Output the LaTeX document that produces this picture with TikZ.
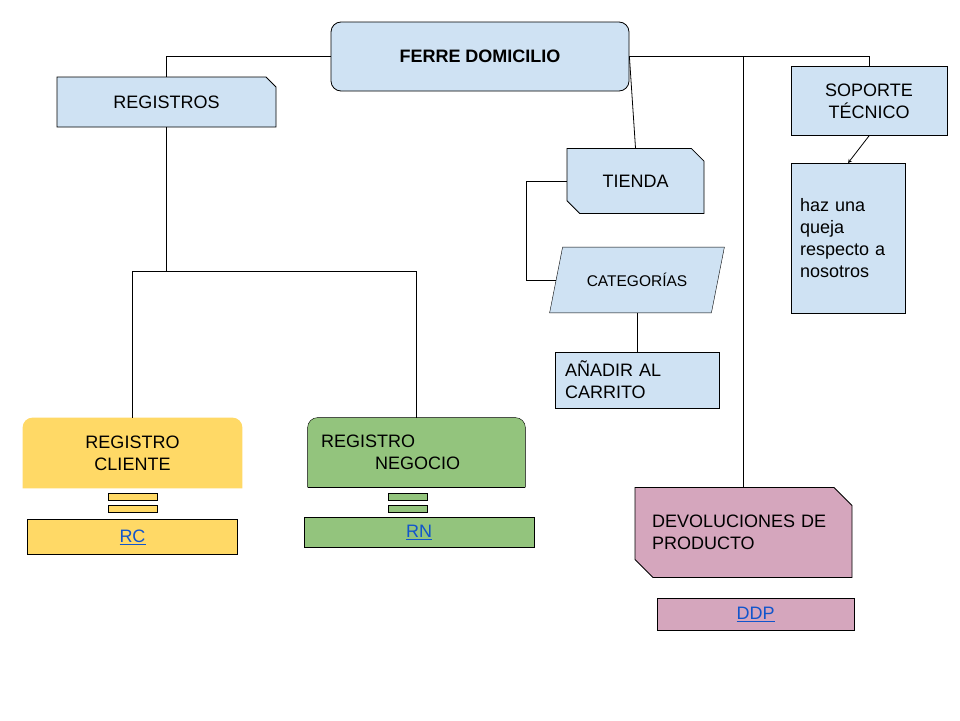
\documentclass[tikz,border=0pt]{standalone}
\usepackage{fontspec}
\setmainfont{Liberation Sans}
\usetikzlibrary{shapes.geometric, shapes.misc, arrows, backgrounds}

\definecolor{cajaazul}{HTML}{CFE2F3}
\definecolor{cajaamarilla}{HTML}{FFD966}
\definecolor{cajaverde}{HTML}{93C47D}
\definecolor{cajarosa}{HTML}{D5A6BD}
\definecolor{enlace}{HTML}{1155CC}

\begin{document}
\begin{tikzpicture}[x=1pt, y=-1pt, line width=0.8pt, font=\fontsize{18pt}{22pt}\selectfont]

\tikzstyle{titulo} = [rectangle, rounded corners=10pt, minimum width=298pt, minimum height=69pt, draw=black, fill=cajaazul, font=\fontsize{18pt}{22pt}\selectfont\bfseries]
\tikzstyle{proceso} = [rectangle, inner sep=0pt, draw=black, fill=cajaazul, text centered]
\tikzstyle{recorte} = [chamfered rectangle, inner sep=0pt, draw=black]
\tikzstyle{registro} = [rectangle, inner sep=0pt, minimum width=218pt, minimum height=70pt]
\tikzstyle{barra} = [rectangle, inner sep=0pt, draw=black, minimum height=7pt]
\tikzstyle{enlacebox} = [rectangle, inner sep=0pt, draw=black]
\tikzstyle{arrow} = [->, >=stealth]

\useasboundingbox (0,0) rectangle (960,720);

\node (ferre) [titulo] at (480,56.5) {FERRE DOMICILIO};
\node (registros) [recorte, fill=cajaazul, chamfered rectangle corners=north east, chamfered rectangle sep=5pt, minimum width=219pt, minimum height=50pt] at (166.5,102) {REGISTROS};
\node (tienda) [recorte, fill=cajaazul, chamfered rectangle corners={north east, south west}, chamfered rectangle sep=6.5pt, minimum width=137pt, minimum height=65pt] at (635.5,181) {TIENDA};
\node (cat) [rectangle, inner sep=0pt, minimum width=161pt, minimum height=65pt, font=\fontsize{15.5pt}{18pt}\selectfont] at (637,280) {CATEGORÍAS};
\node (anadir) [proceso, align=left, text width=144pt, minimum width=164pt, minimum height=56pt] at (637,380) {AÑADIR AL\\CARRITO};
\node (soporte) [proceso, align=center, minimum width=156pt, minimum height=69pt] at (869,101) {SOPORTE\\TÉCNICO};
\node (queja) [proceso, align=left, text width=96pt, minimum width=114pt, minimum height=150pt] at (848,238.5) {haz una\\queja\\respecto a\\nosotros};

\node (cliente) [registro, align=center, minimum width=219pt] at (132.5,453) {REGISTRO\\CLIENTE};
\node (cbar1) [barra, fill=cajaamarilla, minimum width=49pt] at (133,497) {};
\node (cbar2) [barra, fill=cajaamarilla, minimum width=49pt] at (133,508.5) {};
\node (rc) [enlacebox, fill=cajaamarilla, minimum width=210pt, minimum height=35pt] at (132.5,537) {\color{enlace}\underline{RC}};

\node (negocio) [registro, align=left, text width=191pt, minimum width=217pt, minimum height=69pt] at (416.5,452.5) {REGISTRO\\\hspace*{54pt}NEGOCIO};
\node (nbar1) [barra, fill=cajaverde, minimum width=39pt] at (407.5,497) {};
\node (nbar2) [barra, fill=cajaverde, minimum width=39pt] at (407.5,508.5) {};
\node (rn) [enlacebox, fill=cajaverde, minimum width=230pt, minimum height=30pt] at (419,532.5) {\color{enlace}\underline{RN}};

\node (devol) [recorte, fill=cajarosa, chamfered rectangle corners={north east, south west}, chamfered rectangle sep=9pt, align=left, text width=183pt, minimum width=217pt, minimum height=90pt] at (743.5,532.5) {DEVOLUCIONES DE\\PRODUCTO};
\node (ddp) [enlacebox, fill=cajarosa, minimum width=197pt, minimum height=32pt] at (755.5,614.5) {\color{enlace}\underline{DDP}};

\coordinate (rjoin) at (166.5,271);
\coordinate (tcodo) at (526,181);

\draw (ferre.west) -| (registros.north);
\draw (ferre.east) -| (soporte.north);
\draw (ferre.east) -| (devol.north);
\draw (ferre.east) -- (tienda.north);
\draw (registros.south) -- (rjoin);
\draw (rjoin) -| (cliente.north);
\draw (rjoin) -| (negocio.north);
\draw (tienda.west) -- (tcodo) |- (cat.west);
\draw (cat.south) -- (anadir.north);
\draw [arrow] (soporte.south) -- (queja.north);

% fondo, paralelogramo y tapas redondeadas
\begin{scope}[on background layer]
\fill[white] (0,0) rectangle (960,720);
\filldraw[fill=cajaazul, draw=black] ([xshift=-6.5pt]cat.south west) -- ([xshift=6.5pt]cat.north west) -- ([xshift=6.5pt]cat.north east) -- ([xshift=-6.5pt]cat.south east) -- cycle;
\fill[cajaamarilla, rounded corners=10pt] (cliente.south west) -- (cliente.north west) -- (cliente.north east) -- (cliente.south east);
\filldraw[fill=cajaverde, draw=black, rounded corners=10pt] (negocio.south west) -- (negocio.north west) -- (negocio.north east) -- (negocio.south east);
\draw (negocio.south west) -- (negocio.south east);
\end{scope}

\end{tikzpicture}
\end{document}
